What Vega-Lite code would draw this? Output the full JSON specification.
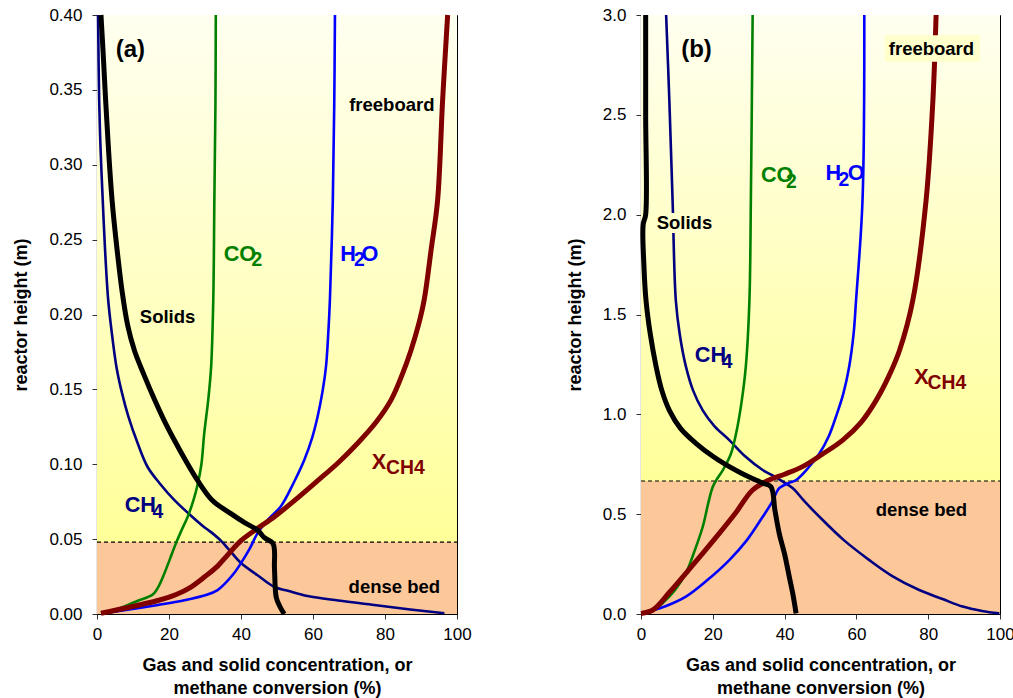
{
  "$schema": "https://vega.github.io/schema/vega-lite/v6.json",
  "padding": {"top": 4, "left": 12, "right": 0, "bottom": 0},
  "background": "white",
  "spacing": 93,
  "datasets": {
    "zones": [
      {"p": "a", "zone": "bed", "lo": 0, "hi": 0.048},
      {"p": "a", "zone": "free", "lo": 0.048, "hi": 0.4},
      {"p": "b", "zone": "bed", "lo": 0, "hi": 0.666},
      {"p": "b", "zone": "free", "lo": 0.666, "hi": 3.0}
    ],
    "boxes": [
      {"p": "b", "x": 67.9, "x2": 94.4, "h": 2.766, "h2": 2.899},
      {"p": "b", "x": 3.3, "x2": 20.9, "h": 1.908, "h2": 2.008}
    ],
    "curves": [
      {"p": "a", "s": "Solids", "x": 52, "h": 0},
      {"p": "a", "s": "Solids", "x": 50.8, "h": 0.005},
      {"p": "a", "s": "Solids", "x": 49.8, "h": 0.011},
      {"p": "a", "s": "Solids", "x": 49.3, "h": 0.03},
      {"p": "a", "s": "Solids", "x": 48.9, "h": 0.047},
      {"p": "a", "s": "Solids", "x": 46.5, "h": 0.051},
      {"p": "a", "s": "Solids", "x": 44.6, "h": 0.056},
      {"p": "a", "s": "Solids", "x": 41, "h": 0.061},
      {"p": "a", "s": "Solids", "x": 37.2, "h": 0.067},
      {"p": "a", "s": "Solids", "x": 32, "h": 0.076},
      {"p": "a", "s": "Solids", "x": 28, "h": 0.089},
      {"p": "a", "s": "Solids", "x": 24.5, "h": 0.103},
      {"p": "a", "s": "Solids", "x": 21.5, "h": 0.116},
      {"p": "a", "s": "Solids", "x": 18.5, "h": 0.13},
      {"p": "a", "s": "Solids", "x": 16, "h": 0.143},
      {"p": "a", "s": "Solids", "x": 13, "h": 0.16},
      {"p": "a", "s": "Solids", "x": 10.4, "h": 0.176},
      {"p": "a", "s": "Solids", "x": 8.5, "h": 0.193},
      {"p": "a", "s": "Solids", "x": 7.0, "h": 0.215},
      {"p": "a", "s": "Solids", "x": 5.5, "h": 0.245},
      {"p": "a", "s": "Solids", "x": 4.2, "h": 0.276},
      {"p": "a", "s": "Solids", "x": 3.2, "h": 0.31},
      {"p": "a", "s": "Solids", "x": 2.4, "h": 0.343},
      {"p": "a", "s": "Solids", "x": 1.7, "h": 0.375},
      {"p": "a", "s": "Solids", "x": 1.1, "h": 0.4},

      {"p": "a", "s": "CH4", "x": 96.5, "h": 0.0005},
      {"p": "a", "s": "CH4", "x": 87, "h": 0.003},
      {"p": "a", "s": "CH4", "x": 77, "h": 0.006},
      {"p": "a", "s": "CH4", "x": 67, "h": 0.009},
      {"p": "a", "s": "CH4", "x": 58.5, "h": 0.012},
      {"p": "a", "s": "CH4", "x": 53, "h": 0.0155},
      {"p": "a", "s": "CH4", "x": 49.3, "h": 0.018},
      {"p": "a", "s": "CH4", "x": 44.5, "h": 0.026},
      {"p": "a", "s": "CH4", "x": 40, "h": 0.034},
      {"p": "a", "s": "CH4", "x": 37, "h": 0.042},
      {"p": "a", "s": "CH4", "x": 34.4, "h": 0.049},
      {"p": "a", "s": "CH4", "x": 31.5, "h": 0.055},
      {"p": "a", "s": "CH4", "x": 29.8, "h": 0.058},
      {"p": "a", "s": "CH4", "x": 25.5, "h": 0.067},
      {"p": "a", "s": "CH4", "x": 21.5, "h": 0.076},
      {"p": "a", "s": "CH4", "x": 17.5, "h": 0.087},
      {"p": "a", "s": "CH4", "x": 14.1, "h": 0.098},
      {"p": "a", "s": "CH4", "x": 11.3, "h": 0.114},
      {"p": "a", "s": "CH4", "x": 8.7, "h": 0.132},
      {"p": "a", "s": "CH4", "x": 6.9, "h": 0.148},
      {"p": "a", "s": "CH4", "x": 5.4, "h": 0.165},
      {"p": "a", "s": "CH4", "x": 4.1, "h": 0.188},
      {"p": "a", "s": "CH4", "x": 3.1, "h": 0.21},
      {"p": "a", "s": "CH4", "x": 2.2, "h": 0.245},
      {"p": "a", "s": "CH4", "x": 1.6, "h": 0.276},
      {"p": "a", "s": "CH4", "x": 1.0, "h": 0.31},
      {"p": "a", "s": "CH4", "x": 0.6, "h": 0.343},
      {"p": "a", "s": "CH4", "x": 0.3, "h": 0.4},

      {"p": "a", "s": "CO2", "x": 1.1, "h": 0.0005},
      {"p": "a", "s": "CO2", "x": 4, "h": 0.002},
      {"p": "a", "s": "CO2", "x": 7.6, "h": 0.005},
      {"p": "a", "s": "CO2", "x": 11.5, "h": 0.009},
      {"p": "a", "s": "CO2", "x": 15.5, "h": 0.013},
      {"p": "a", "s": "CO2", "x": 17, "h": 0.018},
      {"p": "a", "s": "CO2", "x": 18.7, "h": 0.027},
      {"p": "a", "s": "CO2", "x": 20.3, "h": 0.037},
      {"p": "a", "s": "CO2", "x": 21.9, "h": 0.047},
      {"p": "a", "s": "CO2", "x": 23.5, "h": 0.056},
      {"p": "a", "s": "CO2", "x": 25.2, "h": 0.065},
      {"p": "a", "s": "CO2", "x": 26.8, "h": 0.076},
      {"p": "a", "s": "CO2", "x": 28, "h": 0.087},
      {"p": "a", "s": "CO2", "x": 29, "h": 0.1},
      {"p": "a", "s": "CO2", "x": 29.8, "h": 0.121},
      {"p": "a", "s": "CO2", "x": 30.9, "h": 0.143},
      {"p": "a", "s": "CO2", "x": 31.7, "h": 0.165},
      {"p": "a", "s": "CO2", "x": 32.3, "h": 0.21},
      {"p": "a", "s": "CO2", "x": 32.6, "h": 0.276},
      {"p": "a", "s": "CO2", "x": 32.9, "h": 0.34},
      {"p": "a", "s": "CO2", "x": 33, "h": 0.4},

      {"p": "a", "s": "H2O", "x": 2, "h": 0.0005},
      {"p": "a", "s": "H2O", "x": 9, "h": 0.003},
      {"p": "a", "s": "H2O", "x": 16.9, "h": 0.006},
      {"p": "a", "s": "H2O", "x": 24, "h": 0.009},
      {"p": "a", "s": "H2O", "x": 30.7, "h": 0.013},
      {"p": "a", "s": "H2O", "x": 33.5, "h": 0.016},
      {"p": "a", "s": "H2O", "x": 35.4, "h": 0.02},
      {"p": "a", "s": "H2O", "x": 38, "h": 0.027},
      {"p": "a", "s": "H2O", "x": 40, "h": 0.034},
      {"p": "a", "s": "H2O", "x": 42.5, "h": 0.044},
      {"p": "a", "s": "H2O", "x": 44.6, "h": 0.054},
      {"p": "a", "s": "H2O", "x": 47.5, "h": 0.063},
      {"p": "a", "s": "H2O", "x": 51.1, "h": 0.072},
      {"p": "a", "s": "H2O", "x": 54.5, "h": 0.087},
      {"p": "a", "s": "H2O", "x": 57.6, "h": 0.103},
      {"p": "a", "s": "H2O", "x": 59.8, "h": 0.118},
      {"p": "a", "s": "H2O", "x": 61.3, "h": 0.132},
      {"p": "a", "s": "H2O", "x": 62.6, "h": 0.148},
      {"p": "a", "s": "H2O", "x": 63.6, "h": 0.165},
      {"p": "a", "s": "H2O", "x": 64.3, "h": 0.19},
      {"p": "a", "s": "H2O", "x": 64.7, "h": 0.21},
      {"p": "a", "s": "H2O", "x": 65.5, "h": 0.276},
      {"p": "a", "s": "H2O", "x": 65.9, "h": 0.34},
      {"p": "a", "s": "H2O", "x": 66.1, "h": 0.4},

      {"p": "a", "s": "XCH4", "x": 1.1, "h": 0.0005},
      {"p": "a", "s": "XCH4", "x": 8, "h": 0.004},
      {"p": "a", "s": "XCH4", "x": 16.9, "h": 0.009},
      {"p": "a", "s": "XCH4", "x": 22, "h": 0.013},
      {"p": "a", "s": "XCH4", "x": 26.1, "h": 0.018},
      {"p": "a", "s": "XCH4", "x": 30, "h": 0.025},
      {"p": "a", "s": "XCH4", "x": 33.5, "h": 0.032},
      {"p": "a", "s": "XCH4", "x": 36.5, "h": 0.04},
      {"p": "a", "s": "XCH4", "x": 40, "h": 0.049},
      {"p": "a", "s": "XCH4", "x": 44.5, "h": 0.057},
      {"p": "a", "s": "XCH4", "x": 49.3, "h": 0.065},
      {"p": "a", "s": "XCH4", "x": 55, "h": 0.076},
      {"p": "a", "s": "XCH4", "x": 61.3, "h": 0.089},
      {"p": "a", "s": "XCH4", "x": 67, "h": 0.101},
      {"p": "a", "s": "XCH4", "x": 72.4, "h": 0.114},
      {"p": "a", "s": "XCH4", "x": 77.5, "h": 0.128},
      {"p": "a", "s": "XCH4", "x": 81.7, "h": 0.143},
      {"p": "a", "s": "XCH4", "x": 84.8, "h": 0.16},
      {"p": "a", "s": "XCH4", "x": 87.2, "h": 0.176},
      {"p": "a", "s": "XCH4", "x": 89.3, "h": 0.193},
      {"p": "a", "s": "XCH4", "x": 90.9, "h": 0.21},
      {"p": "a", "s": "XCH4", "x": 92.8, "h": 0.243},
      {"p": "a", "s": "XCH4", "x": 94.6, "h": 0.276},
      {"p": "a", "s": "XCH4", "x": 96, "h": 0.343},
      {"p": "a", "s": "XCH4", "x": 97.4, "h": 0.4},

      {"p": "b", "s": "Solids", "x": 43.2, "h": 0.003},
      {"p": "b", "s": "Solids", "x": 42.3, "h": 0.1},
      {"p": "b", "s": "Solids", "x": 41.3, "h": 0.187},
      {"p": "b", "s": "Solids", "x": 40, "h": 0.3},
      {"p": "b", "s": "Solids", "x": 38.5, "h": 0.404},
      {"p": "b", "s": "Solids", "x": 37.3, "h": 0.52},
      {"p": "b", "s": "Solids", "x": 36.2, "h": 0.637},
      {"p": "b", "s": "Solids", "x": 34, "h": 0.655},
      {"p": "b", "s": "Solids", "x": 32, "h": 0.671},
      {"p": "b", "s": "Solids", "x": 28, "h": 0.705},
      {"p": "b", "s": "Solids", "x": 24.6, "h": 0.738},
      {"p": "b", "s": "Solids", "x": 20, "h": 0.79},
      {"p": "b", "s": "Solids", "x": 15.3, "h": 0.855},
      {"p": "b", "s": "Solids", "x": 11, "h": 0.93},
      {"p": "b", "s": "Solids", "x": 7.9, "h": 1.02},
      {"p": "b", "s": "Solids", "x": 5.8, "h": 1.12},
      {"p": "b", "s": "Solids", "x": 4.2, "h": 1.24},
      {"p": "b", "s": "Solids", "x": 2.6, "h": 1.4},
      {"p": "b", "s": "Solids", "x": 1.4, "h": 1.57},
      {"p": "b", "s": "Solids", "x": 0.8, "h": 1.75},
      {"p": "b", "s": "Solids", "x": 0.6, "h": 1.95},
      {"p": "b", "s": "Solids", "x": 1.3, "h": 2.0},
      {"p": "b", "s": "Solids", "x": 1.3, "h": 2.5},
      {"p": "b", "s": "Solids", "x": 1.3, "h": 3.0},

      {"p": "b", "s": "CH4", "x": 99.8, "h": 0.003},
      {"p": "b", "s": "CH4", "x": 95, "h": 0.015},
      {"p": "b", "s": "CH4", "x": 89.6, "h": 0.037},
      {"p": "b", "s": "CH4", "x": 84, "h": 0.075},
      {"p": "b", "s": "CH4", "x": 77.5, "h": 0.12},
      {"p": "b", "s": "CH4", "x": 70, "h": 0.19},
      {"p": "b", "s": "CH4", "x": 63.6, "h": 0.27},
      {"p": "b", "s": "CH4", "x": 56.5, "h": 0.37},
      {"p": "b", "s": "CH4", "x": 49.7, "h": 0.487},
      {"p": "b", "s": "CH4", "x": 45.5, "h": 0.565},
      {"p": "b", "s": "CH4", "x": 42.3, "h": 0.63},
      {"p": "b", "s": "CH4", "x": 39.5, "h": 0.663},
      {"p": "b", "s": "CH4", "x": 36.5, "h": 0.695},
      {"p": "b", "s": "CH4", "x": 33.9, "h": 0.721},
      {"p": "b", "s": "CH4", "x": 29, "h": 0.79},
      {"p": "b", "s": "CH4", "x": 24.6, "h": 0.871},
      {"p": "b", "s": "CH4", "x": 20.5, "h": 0.94},
      {"p": "b", "s": "CH4", "x": 17.2, "h": 1.02},
      {"p": "b", "s": "CH4", "x": 14.5, "h": 1.12},
      {"p": "b", "s": "CH4", "x": 12.5, "h": 1.24},
      {"p": "b", "s": "CH4", "x": 10.8, "h": 1.4},
      {"p": "b", "s": "CH4", "x": 9.7, "h": 1.57},
      {"p": "b", "s": "CH4", "x": 8.8, "h": 2.07},
      {"p": "b", "s": "CH4", "x": 7.9, "h": 2.57},
      {"p": "b", "s": "CH4", "x": 7, "h": 3.0},

      {"p": "b", "s": "CO2", "x": 1.4, "h": 0.003},
      {"p": "b", "s": "CO2", "x": 3.5, "h": 0.02},
      {"p": "b", "s": "CO2", "x": 6, "h": 0.054},
      {"p": "b", "s": "CO2", "x": 9.5, "h": 0.12},
      {"p": "b", "s": "CO2", "x": 12.5, "h": 0.204},
      {"p": "b", "s": "CO2", "x": 15, "h": 0.32},
      {"p": "b", "s": "CO2", "x": 17.2, "h": 0.437},
      {"p": "b", "s": "CO2", "x": 18.8, "h": 0.56},
      {"p": "b", "s": "CO2", "x": 20, "h": 0.637},
      {"p": "b", "s": "CO2", "x": 21.3, "h": 0.68},
      {"p": "b", "s": "CO2", "x": 22.8, "h": 0.721},
      {"p": "b", "s": "CO2", "x": 25, "h": 0.8},
      {"p": "b", "s": "CO2", "x": 26.5, "h": 0.905},
      {"p": "b", "s": "CO2", "x": 28, "h": 1.06},
      {"p": "b", "s": "CO2", "x": 29.2, "h": 1.24},
      {"p": "b", "s": "CO2", "x": 30.2, "h": 1.57},
      {"p": "b", "s": "CO2", "x": 30.6, "h": 2.07},
      {"p": "b", "s": "CO2", "x": 31.1, "h": 3.0},

      {"p": "b", "s": "H2O", "x": 0.5, "h": 0.003},
      {"p": "b", "s": "H2O", "x": 2.3, "h": 0.012},
      {"p": "b", "s": "H2O", "x": 7, "h": 0.04},
      {"p": "b", "s": "H2O", "x": 12.5, "h": 0.087},
      {"p": "b", "s": "H2O", "x": 18.5, "h": 0.17},
      {"p": "b", "s": "H2O", "x": 24.6, "h": 0.27},
      {"p": "b", "s": "H2O", "x": 29.5, "h": 0.37},
      {"p": "b", "s": "H2O", "x": 33.9, "h": 0.487},
      {"p": "b", "s": "H2O", "x": 36.5, "h": 0.56},
      {"p": "b", "s": "H2O", "x": 38.5, "h": 0.63},
      {"p": "b", "s": "H2O", "x": 41, "h": 0.655},
      {"p": "b", "s": "H2O", "x": 43.2, "h": 0.671},
      {"p": "b", "s": "H2O", "x": 46.5, "h": 0.73},
      {"p": "b", "s": "H2O", "x": 49.7, "h": 0.804},
      {"p": "b", "s": "H2O", "x": 52.3, "h": 0.89},
      {"p": "b", "s": "H2O", "x": 54.3, "h": 0.988},
      {"p": "b", "s": "H2O", "x": 56.3, "h": 1.1},
      {"p": "b", "s": "H2O", "x": 58, "h": 1.24},
      {"p": "b", "s": "H2O", "x": 59.2, "h": 1.4},
      {"p": "b", "s": "H2O", "x": 59.9, "h": 1.57},
      {"p": "b", "s": "H2O", "x": 61.7, "h": 2.07},
      {"p": "b", "s": "H2O", "x": 62.2, "h": 3.0},

      {"p": "b", "s": "XCH4", "x": 0, "h": 0.003},
      {"p": "b", "s": "XCH4", "x": 3.3, "h": 0.02},
      {"p": "b", "s": "XCH4", "x": 8, "h": 0.11},
      {"p": "b", "s": "XCH4", "x": 12.5, "h": 0.204},
      {"p": "b", "s": "XCH4", "x": 17, "h": 0.3},
      {"p": "b", "s": "XCH4", "x": 21.8, "h": 0.404},
      {"p": "b", "s": "XCH4", "x": 26.5, "h": 0.51},
      {"p": "b", "s": "XCH4", "x": 31.1, "h": 0.621},
      {"p": "b", "s": "XCH4", "x": 35.7, "h": 0.671},
      {"p": "b", "s": "XCH4", "x": 40, "h": 0.7},
      {"p": "b", "s": "XCH4", "x": 45, "h": 0.738},
      {"p": "b", "s": "XCH4", "x": 50.5, "h": 0.8},
      {"p": "b", "s": "XCH4", "x": 56.2, "h": 0.871},
      {"p": "b", "s": "XCH4", "x": 61.3, "h": 0.96},
      {"p": "b", "s": "XCH4", "x": 65.5, "h": 1.07},
      {"p": "b", "s": "XCH4", "x": 69, "h": 1.19},
      {"p": "b", "s": "XCH4", "x": 72, "h": 1.32},
      {"p": "b", "s": "XCH4", "x": 75.7, "h": 1.57},
      {"p": "b", "s": "XCH4", "x": 79.4, "h": 2.07},
      {"p": "b", "s": "XCH4", "x": 81.3, "h": 2.57},
      {"p": "b", "s": "XCH4", "x": 82.2, "h": 3.0}
    ],
    "labels": [
      {"p": "a", "kind": "tag", "t": "(a)", "c": "note", "x": 5.2, "h": 0.3766},
      {"p": "a", "kind": "zone", "t": "freeboard", "c": "note", "x": 81.9, "h": 0.34},
      {"p": "a", "kind": "zone", "t": "dense bed", "c": "note", "x": 82.6, "h": 0.0182},
      {"p": "a", "kind": "zone", "t": "Solids", "c": "Solids", "x": 19.6, "h": 0.1985},
      {"p": "a", "kind": "main", "t": "CO", "c": "CO2", "x": 35.2, "h": 0.2404},
      {"p": "a", "kind": "sub", "t": "2", "c": "CO2", "x": 42.9, "h": 0.2364},
      {"p": "a", "kind": "main", "t": "H", "c": "H2O", "x": 67.6, "h": 0.2404},
      {"p": "a", "kind": "sub", "t": "2", "c": "H2O", "x": 71.4, "h": 0.2364},
      {"p": "a", "kind": "main", "t": "O", "c": "H2O", "x": 73.5, "h": 0.2404},
      {"p": "a", "kind": "main", "t": "X", "c": "XCH4", "x": 76.3, "h": 0.1017},
      {"p": "a", "kind": "sub", "t": "CH4", "c": "XCH4", "x": 80.3, "h": 0.0973},
      {"p": "a", "kind": "main", "t": "CH", "c": "CH4", "x": 7.7, "h": 0.0728},
      {"p": "a", "kind": "sub", "t": "4", "c": "CH4", "x": 15.4, "h": 0.0683},

      {"p": "b", "kind": "tag", "t": "(b)", "c": "note", "x": 11.2, "h": 2.824},
      {"p": "b", "kind": "zone", "t": "freeboard", "c": "note", "x": 80.9, "h": 2.829},
      {"p": "b", "kind": "zone", "t": "dense bed", "c": "note", "x": 78.1, "h": 0.521},
      {"p": "b", "kind": "zone", "t": "Solids", "c": "Solids", "x": 12.1, "h": 1.956},
      {"p": "b", "kind": "main", "t": "CO", "c": "CO2", "x": 33.4, "h": 2.198},
      {"p": "b", "kind": "sub", "t": "2", "c": "CO2", "x": 40.4, "h": 2.165},
      {"p": "b", "kind": "main", "t": "H", "c": "H2O", "x": 51.4, "h": 2.207},
      {"p": "b", "kind": "sub", "t": "2", "c": "H2O", "x": 55.0, "h": 2.173},
      {"p": "b", "kind": "main", "t": "O", "c": "H2O", "x": 57.6, "h": 2.207},
      {"p": "b", "kind": "main", "t": "X", "c": "XCH4", "x": 76.1, "h": 1.185},
      {"p": "b", "kind": "sub", "t": "CH4", "c": "XCH4", "x": 79.8, "h": 1.155},
      {"p": "b", "kind": "main", "t": "CH", "c": "CH4", "x": 15.0, "h": 1.297},
      {"p": "b", "kind": "sub", "t": "4", "c": "CH4", "x": 22.5, "h": 1.263}
    ]
  },
  "hconcat": [
    {
      "width": 360,
      "height": 599,
      "layer": [
        {
          "data": {"name": "zones"},
          "transform": [{"filter": "datum.p === 'a' && datum.zone === 'bed'"}],
          "mark": {"type": "rect", "color": "#FCC89A"},
          "encoding": {
            "x": {"datum": 0, "type": "quantitative", "scale": {"domain": [0, 100], "nice": false}},
            "x2": {"datum": 100},
            "y": {"field": "lo", "type": "quantitative", "scale": {"domain": [0, 0.4], "nice": false}},
            "y2": {"field": "hi"}
          }
        },
        {
          "data": {"name": "zones"},
          "transform": [{"filter": "datum.p === 'a' && datum.zone === 'free'"}],
          "mark": {"type": "rect", "color": {"gradient": "linear", "x1": 0, "y1": 1, "x2": 0, "y2": 0, "stops": [{"offset": 0, "color": "#FFFF99"}, {"offset": 1, "color": "#FFFFF0"}]}},
          "encoding": {
            "x": {"datum": 0, "type": "quantitative"},
            "x2": {"datum": 100},
            "y": {"field": "lo", "type": "quantitative"},
            "y2": {"field": "hi"}
          }
        },
        {
          "data": {"name": "zones"},
          "transform": [{"filter": "datum.p === 'a' && datum.zone === 'bed'"}],
          "mark": {"type": "rule", "color": "#000", "strokeDash": [4, 3], "strokeWidth": 1.2},
          "encoding": {
            "x": {"datum": 0, "type": "quantitative"},
            "x2": {"datum": 100},
            "y": {"field": "hi", "type": "quantitative"}
          }
        },
        {
          "data": {"name": "curves"},
          "transform": [{"filter": "datum.p === 'a' && (datum.s === 'CH4' || datum.s === 'CO2' || datum.s === 'H2O')"}],
          "mark": {"type": "line", "strokeWidth": 2.6, "interpolate": "catmull-rom"},
          "encoding": {
            "x": {"field": "x", "type": "quantitative", "axis": {"values": [0, 20, 40, 60, 80, 100], "title": ["Gas and solid concentration, or", "methane conversion (%)"]}},
            "y": {"field": "h", "type": "quantitative", "axis": {"values": [0, 0.05, 0.1, 0.15, 0.2, 0.25, 0.3, 0.35, 0.4], "format": ".2f", "title": "reactor height (m)"}},
            "order": {"field": "h", "type": "quantitative"},
            "detail": {"field": "s"},
            "color": {"field": "s", "type": "nominal", "scale": {"domain": ["Solids", "CH4", "CO2", "H2O", "XCH4", "note"], "range": ["#000000", "#000080", "#008000", "#0000FF", "#800000", "#000000"]}, "legend": null}
          }
        },
        {
          "data": {"name": "curves"},
          "transform": [{"filter": "datum.p === 'a' && datum.s === 'XCH4'"}],
          "mark": {"type": "line", "strokeWidth": 5, "interpolate": "catmull-rom"},
          "encoding": {
            "x": {"field": "x", "type": "quantitative"},
            "y": {"field": "h", "type": "quantitative"},
            "order": {"field": "h", "type": "quantitative"},
            "color": {"field": "s", "type": "nominal", "legend": null}
          }
        },
        {
          "data": {"name": "curves"},
          "transform": [{"filter": "datum.p === 'a' && datum.s === 'Solids'"}],
          "mark": {"type": "line", "strokeWidth": 5, "interpolate": "catmull-rom"},
          "encoding": {
            "x": {"field": "x", "type": "quantitative"},
            "y": {"field": "h", "type": "quantitative"},
            "order": {"field": "h", "type": "quantitative"},
            "color": {"field": "s", "type": "nominal", "legend": null}
          }
        },
        {
          "data": {"name": "labels"},
          "transform": [{"filter": "datum.p === 'a' && datum.kind !== 'zone'"}],
          "mark": {"type": "text", "align": "left", "baseline": "middle", "fontWeight": "bold"},
          "encoding": {
            "x": {"field": "x", "type": "quantitative"},
            "y": {"field": "h", "type": "quantitative"},
            "text": {"field": "t"},
            "size": {"field": "kind", "type": "nominal", "scale": {"domain": ["tag", "main", "sub", "zone"], "range": [24, 17, 11, 18.5]}, "legend": null},
            "color": {"field": "c", "type": "nominal", "legend": null}
          }
        },
        {
          "data": {"name": "labels"},
          "transform": [{"filter": "datum.p === 'a' && datum.kind === 'zone'"}],
          "mark": {"type": "text", "align": "center", "baseline": "middle", "fontWeight": "bold", "fontSize": 18.5},
          "encoding": {
            "x": {"field": "x", "type": "quantitative"},
            "y": {"field": "h", "type": "quantitative"},
            "text": {"field": "t"},
            "color": {"field": "c", "type": "nominal", "legend": null}
          }
        }
      ]
    },
    {
      "width": 359,
      "height": 599,
      "layer": [
        {
          "data": {"name": "zones"},
          "transform": [{"filter": "datum.p === 'b' && datum.zone === 'bed'"}],
          "mark": {"type": "rect", "color": "#FCC89A"},
          "encoding": {
            "x": {"datum": 0, "type": "quantitative", "scale": {"domain": [0, 100], "nice": false}},
            "x2": {"datum": 100},
            "y": {"field": "lo", "type": "quantitative", "scale": {"domain": [0, 3], "nice": false}},
            "y2": {"field": "hi"}
          }
        },
        {
          "data": {"name": "zones"},
          "transform": [{"filter": "datum.p === 'b' && datum.zone === 'free'"}],
          "mark": {"type": "rect", "color": {"gradient": "linear", "x1": 0, "y1": 1, "x2": 0, "y2": 0, "stops": [{"offset": 0, "color": "#FFFF99"}, {"offset": 1, "color": "#FFFFF0"}]}},
          "encoding": {
            "x": {"datum": 0, "type": "quantitative"},
            "x2": {"datum": 100},
            "y": {"field": "lo", "type": "quantitative"},
            "y2": {"field": "hi"}
          }
        },
        {
          "data": {"name": "zones"},
          "transform": [{"filter": "datum.p === 'b' && datum.zone === 'bed'"}],
          "mark": {"type": "rule", "color": "#000", "strokeDash": [4, 3], "strokeWidth": 1.2},
          "encoding": {
            "x": {"datum": 0, "type": "quantitative"},
            "x2": {"datum": 100},
            "y": {"field": "hi", "type": "quantitative"}
          }
        },
        {
          "data": {"name": "curves"},
          "transform": [{"filter": "datum.p === 'b' && (datum.s === 'CH4' || datum.s === 'CO2' || datum.s === 'H2O')"}],
          "mark": {"type": "line", "strokeWidth": 2.6, "interpolate": "catmull-rom"},
          "encoding": {
            "x": {"field": "x", "type": "quantitative", "axis": {"values": [0, 20, 40, 60, 80, 100], "title": ["Gas and solid concentration, or", "methane conversion (%)"]}},
            "y": {"field": "h", "type": "quantitative", "axis": {"values": [0, 0.5, 1, 1.5, 2, 2.5, 3], "format": ".1f", "title": "reactor height (m)"}},
            "order": {"field": "h", "type": "quantitative"},
            "detail": {"field": "s"},
            "color": {"field": "s", "type": "nominal", "scale": {"domain": ["Solids", "CH4", "CO2", "H2O", "XCH4", "note"], "range": ["#000000", "#000080", "#008000", "#0000FF", "#800000", "#000000"]}, "legend": null}
          }
        },
        {
          "data": {"name": "curves"},
          "transform": [{"filter": "datum.p === 'b' && datum.s === 'XCH4'"}],
          "mark": {"type": "line", "strokeWidth": 5, "interpolate": "catmull-rom"},
          "encoding": {
            "x": {"field": "x", "type": "quantitative"},
            "y": {"field": "h", "type": "quantitative"},
            "order": {"field": "h", "type": "quantitative"},
            "color": {"field": "s", "type": "nominal", "legend": null}
          }
        },
        {
          "data": {"name": "curves"},
          "transform": [{"filter": "datum.p === 'b' && datum.s === 'Solids'"}],
          "mark": {"type": "line", "strokeWidth": 5, "interpolate": "catmull-rom"},
          "encoding": {
            "x": {"field": "x", "type": "quantitative"},
            "y": {"field": "h", "type": "quantitative"},
            "order": {"field": "h", "type": "quantitative"},
            "color": {"field": "s", "type": "nominal", "legend": null}
          }
        },
        {
          "data": {"name": "boxes"},
          "mark": {"type": "rect", "color": "#FFFFCC"},
          "encoding": {
            "x": {"field": "x", "type": "quantitative"},
            "x2": {"field": "x2"},
            "y": {"field": "h", "type": "quantitative"},
            "y2": {"field": "h2"}
          }
        },
        {
          "data": {"name": "labels"},
          "transform": [{"filter": "datum.p === 'b' && datum.kind !== 'zone'"}],
          "mark": {"type": "text", "align": "left", "baseline": "middle", "fontWeight": "bold"},
          "encoding": {
            "x": {"field": "x", "type": "quantitative"},
            "y": {"field": "h", "type": "quantitative"},
            "text": {"field": "t"},
            "size": {"field": "kind", "type": "nominal", "scale": {"domain": ["tag", "main", "sub", "zone"], "range": [24, 16.5, 11, 18.5]}, "legend": null},
            "color": {"field": "c", "type": "nominal", "legend": null}
          }
        },
        {
          "data": {"name": "labels"},
          "transform": [{"filter": "datum.p === 'b' && datum.kind === 'zone'"}],
          "mark": {"type": "text", "align": "center", "baseline": "middle", "fontWeight": "bold", "fontSize": 18.5},
          "encoding": {
            "x": {"field": "x", "type": "quantitative"},
            "y": {"field": "h", "type": "quantitative"},
            "text": {"field": "t"},
            "color": {"field": "c", "type": "nominal", "legend": null}
          }
        }
      ]
    }
  ],
  "config": {
    "font": "Liberation Sans",
    "view": {"stroke": "#000", "strokeWidth": 1},
    "text": {"font": "Liberation Sans"},
    "axis": {
      "grid": false,
      "domainColor": "#000",
      "domainWidth": 1.2,
      "tickColor": "#333",
      "tickSize": 5,
      "labelColor": "#000",
      "labelFont": "Liberation Sans",
      "labelFontSize": 17,
      "titleColor": "#000",
      "titleFont": "Liberation Sans",
      "titleFontSize": 18,
      "titleFontWeight": "bold"
    },
    "axisX": {"labelPadding": 7, "titlePadding": 14, "titleLineHeight": 23, "labelFlush": false},
    "axisY": {"labelPadding": 10, "titlePadding": 18, "labelFlush": false}
  }
}
